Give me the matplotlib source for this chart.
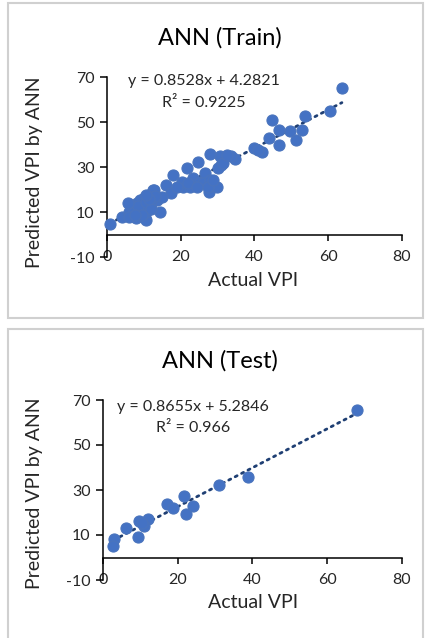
import matplotlib
matplotlib.use("Agg")
import matplotlib.pyplot as plt
from matplotlib.patches import Rectangle
import numpy as np

plt.rcParams['font.family'] = ['Lato', 'DejaVu Sans']
plt.rcParams['axes.unicode_minus'] = False

# ---------------- data ----------------
train_actual = [63.7, 60.5, 53.6, 52.8, 51.2, 49.6, 46.6, 44.8, 46.6, 44.0,
                42.0, 40.0, 41.0, 34.7, 33.5, 30.6, 27.9, 30.9, 30.2, 31.5,
                24.8, 21.6, 17.8, 16.0, 17.4, 20.7, 22.5, 20.3, 23.4, 25.2,
                26.6, 26.1, 27.9, 27.7, 29.7, 27.5, 22.0, 18.9, 24.3, 14.4,
                12.4, 10.3, 0.8, 4.0, 6.4, 7.8, 6.4, 8.2, 9.1, 10.5,
                10.0, 11.4, 12.7, 11.8, 13.6, 10.5, 8.6, 15.0, 7.4, 9.5,
                5.9, 12.0, 11.0, 9.0, 7.0, 8.5, 10.5, 13.0, 12.0, 9.5,
                11.5, 10.5, 6.0, 5.8, 7.6, 28.8, 32.5]
train_pred = [65.0, 55.0, 52.7, 46.4, 41.9, 46.1, 46.4, 50.7, 39.8, 43.0,
              36.8, 38.3, 37.5, 33.4, 34.9, 34.9, 35.8, 30.9, 29.4, 32.0,
              32.4, 29.4, 26.4, 22.0, 18.3, 21.3, 21.3, 23.5, 25.0, 23.5,
              27.2, 22.8, 24.2, 19.0, 21.3, 21.3, 23.0, 21.2, 21.2, 10.1,
              19.8, 7.2, 4.7, 7.9, 8.7, 7.2, 12.4, 13.9, 11.6, 6.4,
              16.1, 17.6, 19.8, 13.9, 15.3, 10.1, 9.9, 16.5, 11.0, 13.5,
              10.0, 15.0, 12.5, 15.5, 9.5, 12.5, 14.5, 17.0, 11.5, 8.5,
              16.0, 17.5, 7.8, 13.9, 8.8, 24.2, 35.3]

test_actual = [68.0, 38.7, 31.0, 21.6, 24.2, 17.1, 18.8, 22.1, 12.1, 9.6,
               11.0, 10.5, 6.2, 9.3, 2.9, 2.8]
test_pred = [65.4, 35.8, 32.4, 27.3, 22.9, 23.8, 21.8, 19.5, 17.1, 16.2,
             14.1, 15.5, 13.2, 9.2, 8.3, 5.3]

train_fit = (0.8528, 4.2821)
test_fit = (0.8655, 5.2846)
train_eq = ["y = 0.8528x + 4.2821", "R² = 0.9225"]
test_eq = ["y = 0.8655x + 5.2846", "R² = 0.966"]

x_ticks = [0, 20, 40, 60, 80]
y_ticks = [-10, 10, 30, 50, 70]

titles = ["ANN (Train)", "ANN (Test)"]
xlabel = "Actual VPI"
ylabel = "Predicted VPI by ANN"

# ---------------- figure ----------------
W, H = 425, 638
fig = plt.figure(figsize=(W / 100, H / 100), dpi=100)


def fx(px):
    return px / W


def fy(py):
    return 1 - py / H


# panel borders
for (x0, y0, x1, y1) in [(8, 3, 423, 318), (8, 329, 423, 640)]:
    fig.add_artist(Rectangle((fx(x0), fy(y1)), fx(x1 - x0), (y1 - y0) / H,
                             transform=fig.transFigure, fill=False,
                             edgecolor='#d0d0d0', lw=1.5))

panels = [
    dict(ax=(107, 77, 402, 257), xs=train_actual, ys=train_pred, fit=train_fit,
         eq=train_eq, eqpos=(204, 81, 103), title=(220, 38), ylab=(35, 172),
         xlab=(253, 281), title_txt=titles[0]),
    dict(ax=(103, 400, 402, 580), xs=test_actual, ys=test_pred, fit=test_fit,
         eq=test_eq, eqpos=(193, 407, 428), title=(220, 361), ylab=(35, 493),
         xlab=(253, 603), title_txt=titles[1]),
]

txt_col = '#262626'
for p in panels:
    l, t, r, b = p['ax']
    ax = fig.add_axes([fx(l), fy(b), fx(r - l), (b - t) / H])
    ax.set_xlim(0, 80)
    ax.set_ylim(-10, 70)
    for s in ['top', 'right', 'bottom']:
        ax.spines[s].set_visible(False)
    ax.spines['left'].set_linewidth(1.1)
    ax.spines['left'].set_color('black')
    ax.set_yticks(y_ticks)
    ax.set_xticks(x_ticks)
    ax.tick_params(axis='y', direction='out', length=5, width=1.1,
                   labelsize=11.5, labelcolor=txt_col, pad=4)
    ax.tick_params(axis='x', length=0, labelsize=11.5, labelcolor=txt_col, pad=-5)
    # x axis line crossing at y = 0
    sec = ax.secondary_xaxis(0.125)
    sec.set_xticks(x_ticks)
    sec.tick_params(axis='x', direction='out', length=4, width=1.1,
                    labelbottom=False)
    sec.spines['bottom'].set_linewidth(1.1)
    sec.spines['bottom'].set_color('black')

    xs = np.array(p['xs'])
    ys = np.array(p['ys'])
    m, c = p['fit']
    xl = np.array([xs.min(), xs.max()])
    ax.plot(xl, m * xl + c, color='#1f3f73', lw=2.0,
            linestyle=(0, (0.8, 1.8)), dash_capstyle='round', zorder=2)
    ax.scatter(xs, ys, s=64, color='#4472C4', edgecolor='#4a74bd',
               linewidth=0.8, zorder=3, clip_on=False)

    ex, ey1, ey2 = p['eqpos']
    fig.text(fx(ex), fy(ey1), p['eq'][0], ha='center', va='center',
             fontsize=11.5, color=txt_col)
    fig.text(fx(ex), fy(ey2), p['eq'][1], ha='center', va='center',
             fontsize=11.5, color=txt_col)
    fig.text(fx(p['title'][0]), fy(p['title'][1]), p['title_txt'],
             ha='center', va='center', fontsize=17, color='black')
    fig.text(fx(p['ylab'][0]), fy(p['ylab'][1]), ylabel, rotation=90,
             ha='center', va='center', fontsize=14, color=txt_col)
    fig.text(fx(p['xlab'][0]), fy(p['xlab'][1]), xlabel,
             ha='center', va='center', fontsize=14, color=txt_col)

fig.savefig('out.png', dpi=100)
